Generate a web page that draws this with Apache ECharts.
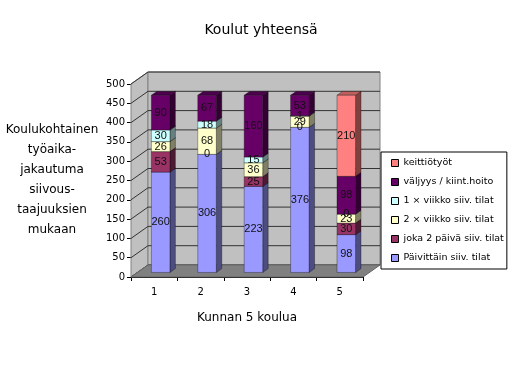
<!DOCTYPE html>
<html><head><meta charset="utf-8">
<script src="https://cdn.jsdelivr.net/npm/echarts@6/dist/echarts.min.js"></script>
<style>html,body{margin:0;padding:0;background:#fff}#c{width:522px;height:372px}</style>
</head><body><div id="c"></div>
<script>
const categories = ['1', '2', '3', '4', '5'];
const yTicks = [0, 50, 100, 150, 200, 250, 300, 350, 400, 450, 500];
const seriesNames = ['Päivittäin siiv. tilat', 'joka 2 päivä siiv. tilat', '2 × viikko siiv. tilat', '1 × viikko siiv. tilat', 'väljyys / kiint.hoito', 'keittiötyöt'];
const paivittain = [260, 306, 223, 376, 98];
const joka2paiva = [53, 0, 25, 0, 30];
const kaksiViikko = [26, 68, 36, 29, 23];
const yksiViikko = [30, 18, 15, 1, 0];
const valjyys = [90, 67, 160, 53, 98];
const keittiotyot = [null, null, null, null, 210];
const legendOrder = ['keittiötyöt', 'väljyys / kiint.hoito', '1 × viikko siiv. tilat', '2 × viikko siiv. tilat', 'joka 2 päivä siiv. tilat', 'Päivittäin siiv. tilat'];

const seriesValues = [paivittain, joka2paiva, kaksiViikko, yksiViikko, valjyys, keittiotyot];
const colors = ['#9999ff', '#993366', '#ffffcc', '#ccffff', '#660066', '#ff8080'];

const DX = 17, DY = -12;       // wall depth
const BF = 0.38, BB = 0.70;    // bar front/back depth fractions
const BAR_W = 0.4;

function shade(hex, f) {
  const n = parseInt(hex.slice(1), 16);
  const r = Math.round(((n >> 16) & 255) * f), g = Math.round(((n >> 8) & 255) * f), b = Math.round((n & 255) * f);
  return 'rgb(' + r + ',' + g + ',' + b + ')';
}

// stacking
const stacked = [];
const labelData = [];
const base = categories.map(() => 0);
seriesValues.forEach((vals, si) => {
  const d = [];
  vals.forEach((v, ci) => {
    if (v === null) return;
    d.push([ci, base[ci], v]);
    labelData.push([ci, base[ci], v]);
    base[ci] += v;
  });
  stacked.push(d);
});

function barRender(color) {
  const side = shade(color, 0.5), top = shade(color, 0.75);
  const edge = { stroke: 'rgba(0,0,0,0.55)', lineWidth: 0.6 };
  return function (params, api) {
    const cat = api.value(0), b = api.value(1), val = api.value(2);
    if (!val) return null;
    const p0 = api.coord([cat, b]), p1 = api.coord([cat, b + val]);
    const bw = api.size([1, 0])[0] * BAR_W;
    const fx = DX * BF, fy = DY * BF, ddx = DX * (BB - BF), ddy = DY * (BB - BF);
    const l = p0[0] - bw / 2 + fx, r = p0[0] + bw / 2 + fx, yb = p0[1] + fy, yt = p1[1] + fy;
    return {
      type: 'group', children: [
        { type: 'polygon', shape: { points: [[r, yb], [r + ddx, yb + ddy], [r + ddx, yt + ddy], [r, yt]] }, style: Object.assign({ fill: side }, edge) },
        { type: 'polygon', shape: { points: [[l, yt], [r, yt], [r + ddx, yt + ddy], [l + ddx, yt + ddy]] }, style: Object.assign({ fill: top }, edge) },
        { type: 'rect', shape: { x: l, y: yt, width: r - l, height: yb - yt }, style: Object.assign({ fill: color }, edge) }
      ]
    };
  };
}

function wallRender(params, api) {
  const cs = params.coordSys;
  const x0 = cs.x, x1 = cs.x + cs.width, yTop = cs.y, yBot = cs.y + cs.height;
  const ch = [];
  ch.push({ type: 'polygon', shape: { points: [[x0, yTop], [x0 + DX, yTop + DY], [x0 + DX, yBot + DY], [x0, yBot]] }, style: { fill: '#c0c0c0', stroke: '#808080', lineWidth: 1 } });
  ch.push({ type: 'rect', shape: { x: x0 + DX, y: yTop + DY, width: cs.width, height: cs.height }, style: { fill: '#c0c0c0', stroke: '#808080', lineWidth: 1 } });
  yTicks.forEach(t => {
    const y = api.coord([0, t])[1];
    ch.push({ type: 'polyline', shape: { points: [[x0, y], [x0 + DX, y + DY], [x1 + DX, y + DY]] }, style: { stroke: '#333', lineWidth: 1, fill: null } });
  });
  ch.push({ type: 'polygon', shape: { points: [[x0, yBot], [x1, yBot], [x1 + DX, yBot + DY], [x0 + DX, yBot + DY]] }, style: { fill: '#808080', stroke: '#666', lineWidth: 1 } });
  return { type: 'group', children: ch };
}

function labelRender(params, api) {
  const cat = api.value(0), b = api.value(1), val = api.value(2);
  const p0 = api.coord([cat, b]), p1 = api.coord([cat, b + val]);
  const fx = DX * BF, fy = DY * BF;
  return {
    type: 'text', style: {
      text: String(val), x: p0[0] + fx, y: (p0[1] + p1[1]) / 2 + fy,
      textAlign: 'center', textVerticalAlign: 'middle',
      font: '11px "Liberation Sans", sans-serif', fill: '#111'
    }
  };
}

const series = [{
  type: 'custom', name: 'walls', data: [[0, 0]], renderItem: wallRender, silent: true, z: 1,
  encode: { x: 0, y: 1 }
}];
stacked.forEach((d, si) => {
  series.push({
    type: 'custom', name: seriesNames[si], data: d, renderItem: barRender(colors[si]),
    itemStyle: { color: colors[si] }, encode: { x: 0, y: 1 }, z: 2
  });
});
series.push({ type: 'custom', name: 'labels', data: labelData, renderItem: labelRender, encode: { x: 0, y: 1 }, z: 5, silent: true });

const chart = echarts.init(document.getElementById('c'));
chart.setOption({
  animation: false,
  backgroundColor: '#fff',
  title: {
    text: 'Koulut yhteensä', left: 'center', top: 18,
    textStyle: { fontFamily: 'DejaVu Sans', fontSize: 14, fontWeight: 'normal', color: '#000' }
  },
  grid: { left: 131, right: 159, top: 84, bottom: 95 },
  xAxis: {
    type: 'category', data: categories,
    name: 'Kunnan 5 koulua', nameLocation: 'middle', nameGap: 35,
    nameTextStyle: { fontFamily: 'DejaVu Sans', fontSize: 12, color: '#000' },
    axisLine: { show: true, lineStyle: { color: '#000', width: 1 } },
    axisTick: { show: true, length: 4, alignWithLabel: false, lineStyle: { color: '#000' } },
    axisLabel: { fontFamily: 'DejaVu Sans', fontSize: 10, color: '#000', margin: 10 },
    splitLine: { show: false }
  },
  yAxis: {
    type: 'value', min: 0, max: 500, interval: 50,
    axisLine: { show: true, lineStyle: { color: '#000', width: 1 } },
    axisTick: { show: true, length: 4, lineStyle: { color: '#000' } },
    axisLabel: { fontFamily: 'DejaVu Sans', fontSize: 10, color: '#000', margin: 6 },
    splitLine: { show: false }
  },
  legend: {
    orient: 'vertical', left: 381, top: 152,
    data: legendOrder,
    backgroundColor: '#fff', borderColor: '#000', borderWidth: 1, borderRadius: 0,
    padding: [5, 3, 5, 10], itemGap: 7, itemWidth: 7, itemHeight: 7, icon: 'rect',
    itemStyle: { borderColor: '#000', borderWidth: 1 },
    textStyle: { fontFamily: 'DejaVu Sans', fontSize: 9.5, color: '#000', lineHeight: 12 },
    selectedMode: false
  },
  graphic: [{
    type: 'text',
    style: {
      text: 'Koulukohtainen\ntyöaika-\njakautuma\nsiivous-\ntaajuuksien\nmukaan',
      x: 52, y: 180, textAlign: 'center', textVerticalAlign: 'middle',
      font: '12px "DejaVu Sans"', lineHeight: 20, fill: '#000'
    }
  }],
  series: series
});
</script>
</body></html>
